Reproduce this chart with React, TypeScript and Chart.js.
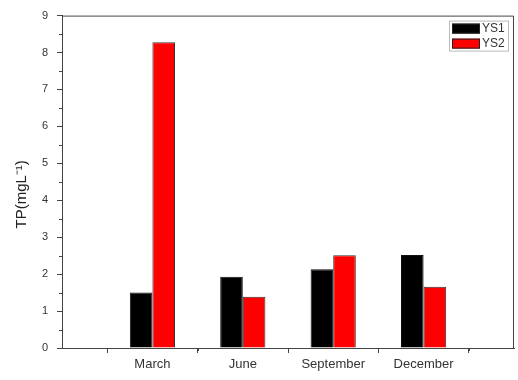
import React, { useEffect, useRef } from "react";
import { Chart, registerables } from "chart.js";

Chart.register(...registerables);

const categories = ["", "March", "June", "September", "December", ""];
const ys1Values = [null, 1.5, 1.93, 2.13, 2.52, null];
const ys2Values = [null, 8.28, 1.39, 2.51, 1.66, null];
const yTicks = [0, 1, 2, 3, 4, 5, 6, 7, 8, 9];
const seriesNames = ["YS1", "YS2"];
const seriesColors = ["#000000", "#ff0000"];
const yTitle = "TP(mgL\u207B\u00B9)";

const FONT = "'Liberation Sans', Arial, sans-serif";
const AXIS = "#444";

const framePlugin = {
  id: "frame",
  afterDraw(chart: any) {
    const { ctx, chartArea } = chart;
    const { left, right, top, bottom } = chartArea;
    ctx.save();
    ctx.strokeStyle = AXIS;
    ctx.lineWidth = 1;
    ctx.beginPath();
    ctx.moveTo(left, top + 0.5);
    ctx.lineTo(right - 0.5, top + 0.5);
    ctx.lineTo(right - 0.5, bottom);
    ctx.stroke();

    // minor ticks
    const ys = chart.scales.y;
    const xs = chart.scales.x;
    ctx.beginPath();
    for (let i = 0; i < yTicks.length - 1; i++) {
      const v = (yTicks[i] + yTicks[i + 1]) / 2;
      const py = Math.round(ys.getPixelForValue(v)) + 0.5;
      ctx.moveTo(left - 3, py);
      ctx.lineTo(left, py);
    }
    for (let i = 0; i < categories.length - 1; i++) {
      const px = Math.round(xs.getPixelForValue(i + 0.5)) + 0.5;
      ctx.moveTo(px, bottom);
      ctx.lineTo(px, bottom + 3);
    }
    ctx.stroke();

    // legend
    const bx = right - 65;
    const by = top + 5;
    ctx.strokeStyle = "#bbb";
    ctx.strokeRect(bx + 0.5, by + 0.5, 59, 30);
    ctx.font = "12px " + FONT;
    ctx.textBaseline = "middle";
    ctx.textAlign = "left";
    chart.data.datasets.forEach((ds: any, i: number) => {
      const sy = by + 3 + i * 15;
      ctx.fillStyle = ds.backgroundColor;
      ctx.fillRect(bx + 3, sy, 28, 10);
      ctx.strokeStyle = "#222";
      ctx.strokeRect(bx + 3.5, sy + 0.5, 27, 9);
      ctx.fillStyle = "#333";
      ctx.fillText(ds.label, bx + 33, sy + 5.5);
    });
    ctx.restore();
  },
};

export default function App() {
  const ref = useRef<HTMLCanvasElement>(null);
  useEffect(() => {
    document.body.style.margin = "0";
    const chart = new Chart(ref.current!, {
      type: "bar",
      data: {
        labels: categories,
        datasets: [
          {
            label: seriesNames[0],
            data: ys1Values,
            backgroundColor: seriesColors[0],
            borderColor: "#111",
            borderWidth: 1,
          },
          {
            label: seriesNames[1],
            data: ys2Values,
            backgroundColor: seriesColors[1],
            borderColor: "#333",
            borderWidth: 1,
          },
        ],
      },
      options: {
        responsive: false,
        animation: false,
        layout: { padding: { top: 12, right: 2, left: 0, bottom: 0 } },
        plugins: { legend: { display: false }, tooltip: { enabled: false } },
        datasets: { bar: { categoryPercentage: 0.5, barPercentage: 1 } },
        scales: {
          x: {
            type: "category",
            offset: false,
            grid: {
              display: true,
              drawOnChartArea: false,
              drawTicks: true,
              tickLength: 5,
              color: AXIS,
            },
            border: { display: true, color: AXIS, width: 1 },
            ticks: {
              color: "#333",
              font: { family: FONT, size: 13 },
              padding: 4,
              autoSkip: false,
              maxRotation: 0,
            },
            afterFit(scale: any) {
              scale.height = 32;
            },
          },
          y: {
            min: 0,
            max: 9,
            grid: {
              display: true,
              drawOnChartArea: false,
              drawTicks: true,
              tickLength: 5,
              color: AXIS,
            },
            border: { display: true, color: AXIS, width: 1 },
            ticks: {
              stepSize: 1,
              color: "#333",
              font: { family: FONT, size: 11 },
              padding: 9,
              callback: (v: any) => (yTicks.includes(v) ? String(v) : ""),
            },
            title: {
              display: true,
              text: yTitle + "      ",
              color: "#222",
              font: { family: FONT, size: 15 },
              padding: { top: 13, bottom: 4 },
            },
            afterFit(scale: any) {
              scale.width = 62;
            },
          },
        },
      },
      plugins: [framePlugin],
    });
    return () => chart.destroy();
  }, []);
  return (
    <div style={{ width: 518, height: 380, background: "#fff" }}>
      <canvas ref={ref} width={518} height={380} />
    </div>
  );
}
